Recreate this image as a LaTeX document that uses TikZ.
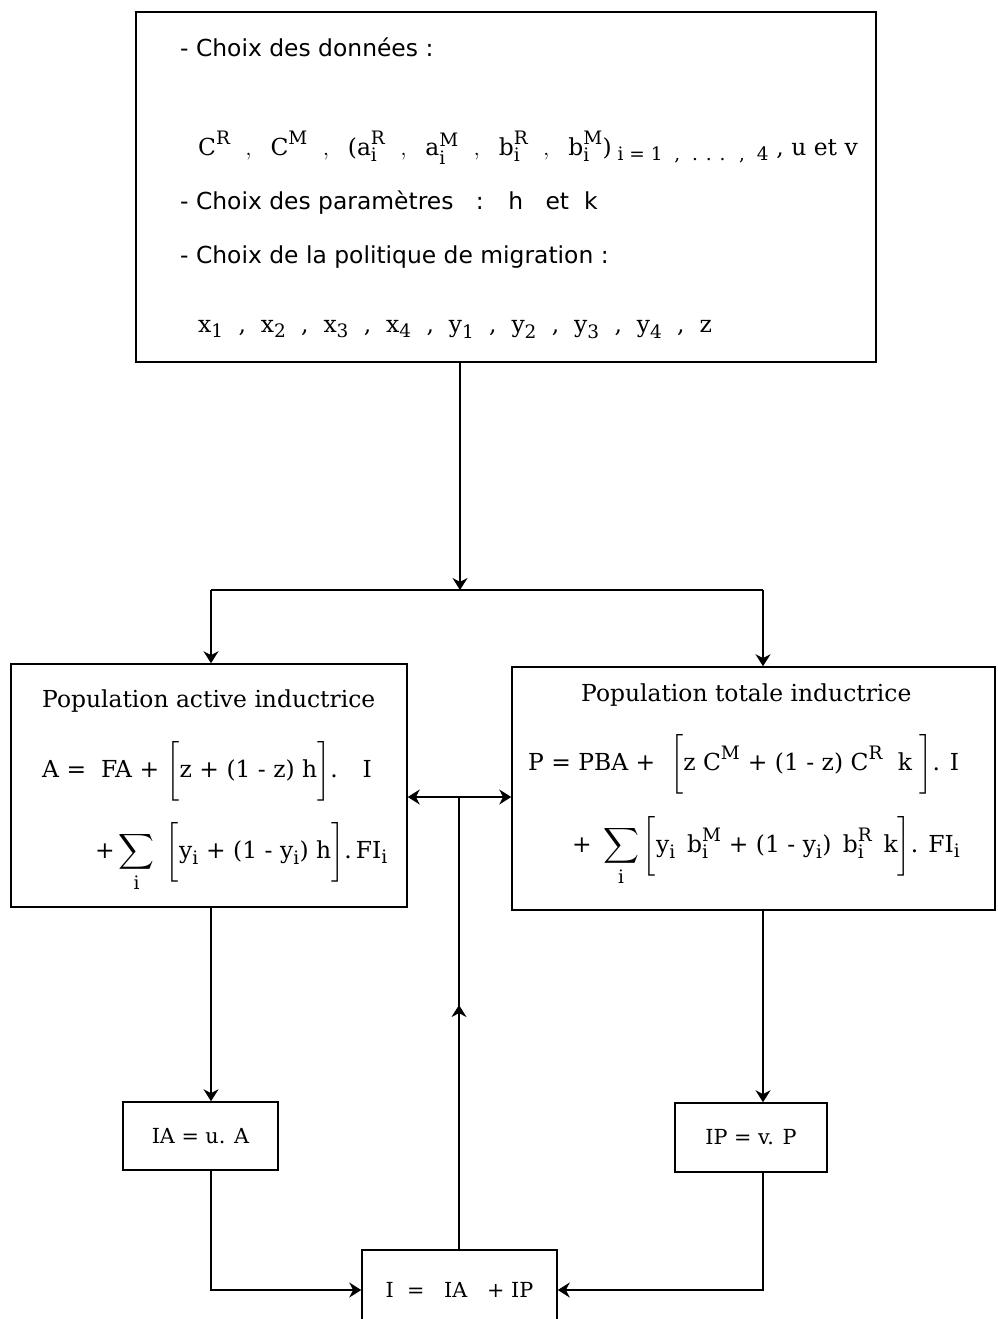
\RequirePackage{fix-cm}
\documentclass[tikz,border=0pt]{standalone}
\usepackage{amsmath}
\usepackage{fontspec}
\setmainfont{DejaVu Serif}
\setsansfont{DejaVu Sans}
\usetikzlibrary{arrows.meta, positioning, decorations.markings}
\DeclareMathSizes{23.4}{23.4}{18.5}{15}
\newcommand{\bigfont}{\fontsize{23.4}{28}\selectfont}
\newcommand{\rt}[1]{\text{#1}}

\begin{document}
\begin{tikzpicture}[
    x=1pt, y=-1pt,
    box/.style={draw, line width=1.5pt, inner sep=0pt, font=\huge},
    txt/.style={anchor=base west, inner sep=0pt, font=\bigfont},
    link/.style={line width=1.3pt},
    arr/.style={line width=1.3pt, -{Stealth[length=12pt,width=15pt]}},
    midarr/.style={line width=1.3pt, postaction={decorate},
        decoration={markings, mark=at position 0.54 with {\arrow{Stealth[length=12pt,width=15pt]}}}}
    ]
    \useasboundingbox (0,0) rectangle (997,1319);
    \clip (0,0) rectangle (997,1319);

    % Boxes
    \node[box, minimum width=740pt, minimum height=350pt] (donnees) at (506,187) {};
    \node[box, minimum width=396pt, minimum height=243pt] (actpop) at (209,785.5) {};
    \node[box, minimum width=483pt, minimum height=243pt] (totpop) at (753.5,788.5) {};
    \node[box, minimum width=155pt, minimum height=68pt] (IA) at (200.5,1136) {IA = u. A};
    \node[box, minimum width=152pt, minimum height=69pt] (IP) at (751,1137.5) {IP = v. P};
    \node[box, minimum width=195pt, minimum height=80pt] (I) at (459.5,1290) {I \ = \ \ IA \ \ + IP};

    % Texts of the top box
    \node[txt, font=\bigfont\sffamily] (choixD) at (180,57) {- Choix des données :};
    \node[txt] (dataF) at (198,155) {$\rt{C}^{\rt{R}}\ \ ,\ \ \rt{C}^{\rt{M}}\ \ ,\ \ \rt{(a}_{\rt{i}}^{\rt{R}}\ \ ,\ \ \rt{a}_{\rt{i}}^{\rt{M}}\ \ ,\ \ \rt{b}_{\rt{i}}^{\rt{R}}\ \ ,\ \ \rt{b}_{\rt{i}}^{\rt{M}}\rt{)}_{\rt{\ i = 1 \ , \ . . . \ , \ 4}}\ \rt{, u et v}$};
    \node[txt, font=\bigfont\sffamily] (choixP) at (180,209) {- Choix des paramètres \ \ : \ \ h \ \ et \ k};
    \node[txt, font=\bigfont\sffamily] (choixM) at (180,263) {- Choix de la politique de migration :};
    \node[txt] (migF) at (198,332) {$\rt{x}_{\rt{1}}\ \ \rt{,}\ \ \rt{x}_{\rt{2}}\ \ \rt{,}\ \ \rt{x}_{\rt{3}}\ \ \rt{,}\ \ \rt{x}_{\rt{4}}\ \ \rt{,}\ \ \rt{y}_{\rt{1}}\ \ \rt{,}\ \ \rt{y}_{\rt{2}}\ \ \rt{,}\ \ \rt{y}_{\rt{3}}\ \ \rt{,}\ \ \rt{y}_{\rt{4}}\ \ \rt{,}\ \ \rt{z}$};

    % Texts of the two population boxes
    \node[txt] (actT) at (42,707) {Population active inductrice};
    \node[txt] (actF1) at (42,777) {$\rt{A =\ \ FA +\ }\bigg[\rt{z + (1 - z) h}\bigg]\rt{. \ \ I}$};
    \node[txt] (actF2) at (95,858) {$\rt{+}\displaystyle\sum_{\rt{i}}\ \bigg[\rt{y}_{\rt{i}}\rt{ + (1 - y}_{\rt{i}}\rt{) h}\bigg]\rt{.\,FI}_{\rt{i}}$};
    \node[txt] (totT) at (581,701) {Population totale inductrice};
    \node[txt] (totF1) at (528,770) {$\rt{P = PBA + \ }\bigg[\rt{z C}^{\rt{M}}\rt{ + (1 - z) C}^{\rt{R}}\rt{\ \ k\ }\bigg]\rt{. I}$};
    \node[txt] (totF2) at (572,852) {$\rt{+ }\displaystyle\sum_{\rt{i}}\bigg[\rt{y}_{\rt{i}}\rt{ \,b}_{\rt{i}}^{\rt{M}}\rt{ + (1 - y}_{\rt{i}}\rt{) \,b}_{\rt{i}}^{\rt{R}}\rt{ \,k}\bigg]\rt{. FI}_{\rt{i}}$};

    % Connectors
    \coordinate (fork) at (460,590);
    \coordinate (forkL) at (211,590);
    \coordinate (forkR) at (763,590);
    \coordinate (hub) at (459,797);
    \draw[arr] (donnees.south -| fork) -- (fork);
    \draw[link] (forkL) -- (forkR);
    \draw[arr] (forkL) -- (forkL |- actpop.north);
    \draw[arr] (forkR) -- (forkR |- totpop.north);
    \draw[arr] (actpop.south -| forkL) -- (IA.north -| forkL);
    \draw[arr] (totpop.south -| forkR) -- (IP.north -| forkR);
    \draw[arr] (IA.south -| forkL) |- (I.west);
    \draw[arr] (IP.south -| forkR) |- (I.east);
    \draw[midarr] (I.north -| hub) -- (hub);
    \draw[arr] (hub) -- (hub -| actpop.east);
    \draw[arr] (hub) -- (hub -| totpop.west);
\end{tikzpicture}
\end{document}
